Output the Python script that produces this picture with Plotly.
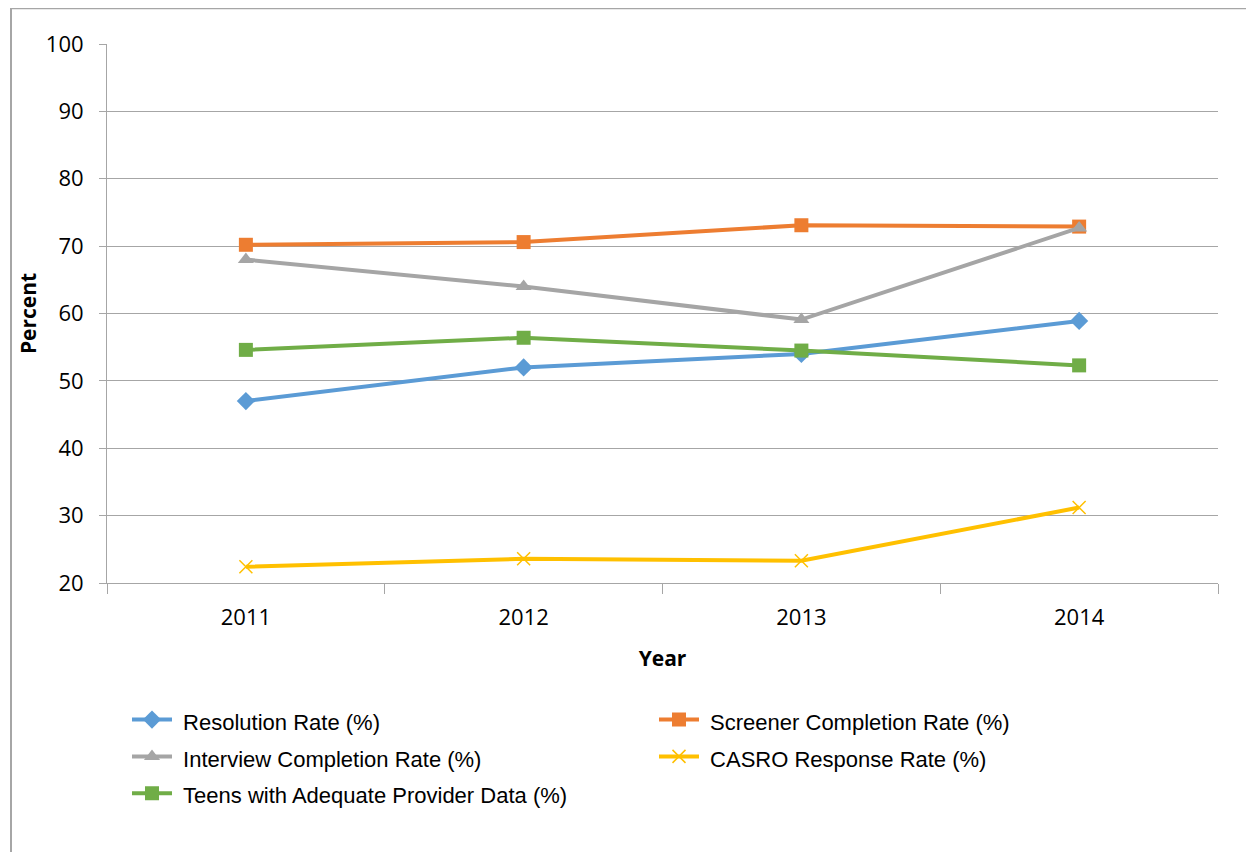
import plotly.graph_objects as go

years = ["2011", "2012", "2013", "2014"]
resolution = [47.0, 52.0, 54.0, 58.9]
screener = [70.2, 70.6, 73.1, 72.9]
interview = [68.0, 64.0, 59.1, 72.7]
casro = [22.4, 23.6, 23.3, 31.2]
teens = [54.6, 56.4, 54.5, 52.3]

series = [
    ("Resolution Rate (%)", resolution, "#5B9BD5", "diamond", 14),
    ("Screener Completion Rate (%)", screener, "#ED7D31", "square", 14),
    ("Interview Completion Rate (%)", interview, "#A5A5A5", "triangle-up", 14),
    ("CASRO Response Rate (%)", casro, "#FFC000", "x-thin-open", 13),
    ("Teens with Adequate Provider Data (%)", teens, "#70AD47", "square", 14),
]

# page body has an 8px margin; compensate so plot sits where the reference has it
OFF = 8
W, H = 1254 - OFF, 852 - OFF
PL, PT, PW, PH = 107 - OFF, 44 - OFF, 1111, 539

fig = go.Figure()
for name, vals, color, sym, size in series:
    marker = dict(symbol=sym, size=size, color=color)
    if sym.startswith("x-thin"):
        marker["line"] = dict(color=color, width=1.5)
    fig.add_trace(go.Scatter(
        x=years, y=vals, mode="lines+markers",
        name="<span style='font-size:22px'>&nbsp;" + name + "</span>",
        line=dict(color=color, width=4), marker=marker,
    ))

tfam = "Open Sans, Noto Sans, sans-serif"
tick_font = dict(family=tfam, size=22, color="#000000")

fig.update_layout(
    width=W, height=H,
    paper_bgcolor="white", plot_bgcolor="white",
    margin=dict(l=PL, r=W - PL - PW, t=PT, b=H - PT - PH),
    xaxis=dict(
        type="category", tickson="boundaries", range=[-0.5, 3.5],
        showgrid=False, showline=True, linecolor="#A6A6A6", linewidth=1,
        ticks="outside", ticklen=10, tickcolor="#A6A6A6",
        tickfont=tick_font, ticklabelstandoff=15,
        title=dict(text="<b>Year</b>", font=dict(family=tfam, size=21, color="#000"), standoff=20),
    ),
    yaxis=dict(
        range=[20, 100], dtick=10, tick0=20,
        showgrid=True, gridcolor="#A6A6A6", gridwidth=1,
        showline=True, linecolor="#A6A6A6", linewidth=1,
        ticks="outside", ticklen=7, tickcolor="#A6A6A6",
        tickfont=tick_font, zeroline=False, ticklabelstandoff=11,
        title=dict(text="<b>Percent</b>", font=dict(family=tfam, size=21, color="#000"), standoff=3),
    ),
    legend=dict(
        orientation="h", x=0.018, xanchor="left", y=-0.21, yanchor="top",
        entrywidth=472, entrywidthmode="pixels",
        font=dict(family="Liberation Sans, Arial, sans-serif", size=26, color="#000"),
        itemwidth=40, tracegroupgap=0,
    ),
    showlegend=True,
)

# chart outer frame (left edge visible)
fx = (11 - 107) / PW
fig.add_shape(type="line", xref="paper", yref="paper",
              x0=fx, x1=fx, y0=(583 - 860) / PH, y1=(583 - 8) / PH,
              line=dict(color="#A6A6A6", width=2))
fig.add_shape(type="line", xref="paper", yref="paper",
              x0=fx, x1=(1260 - 107) / PW, y0=(583 - 8.5) / PH, y1=(583 - 8.5) / PH,
              line=dict(color="#A6A6A6", width=1.5))

fig.write_html("out.html")
